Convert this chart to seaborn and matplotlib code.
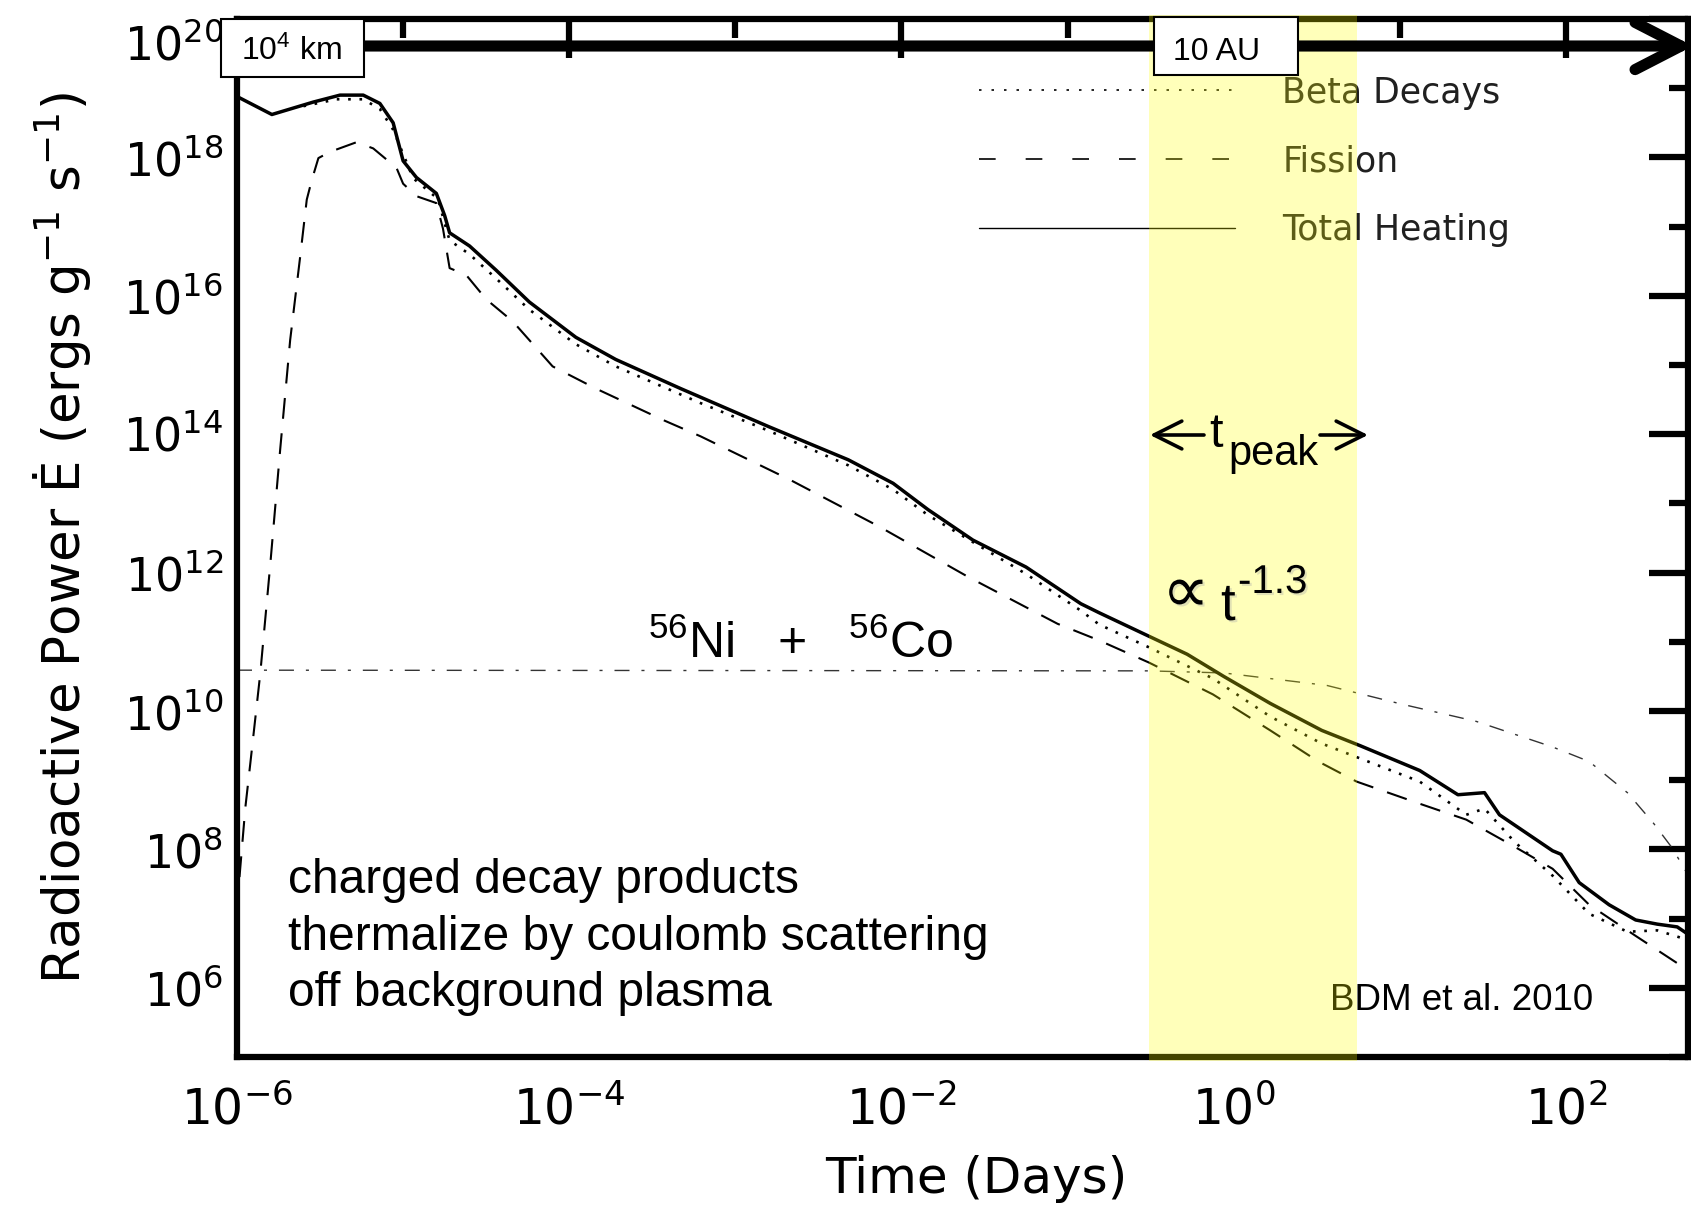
import numpy as np
import pandas as pd
import seaborn as sns
import matplotlib
matplotlib.use("Agg")
import matplotlib.pyplot as plt
from matplotlib import ticker, font_manager
from matplotlib import patheffects as pe
from matplotlib.patches import Rectangle, FancyArrowPatch
from matplotlib.lines import Line2D

# ---------------- data: log10(time / days), log10(power / erg g^-1 s^-1) ----------------
total_log_t = [-6.00, -5.79, -5.54, -5.38, -5.24, -5.14, -5.06, -5.00, -4.92, -4.80,
               -4.75, -4.72, -4.60, -4.44, -4.24, -3.96, -3.72, -3.33, -2.80, -2.32,
               -2.05, -1.84, -1.57, -1.25, -0.92, -0.81, -0.51, -0.28, -0.06, 0.22,
               0.53, 0.76, 1.12, 1.35, 1.51, 1.60, 1.76, 1.92, 1.97, 2.08,
               2.26, 2.42, 2.55, 2.67, 2.75]
total_log_E = [18.88, 18.62, 18.80, 18.90, 18.90, 18.78, 18.50, 17.95, 17.71, 17.48,
               17.16, 16.91, 16.72, 16.37, 15.91, 15.40, 15.08, 14.66, 14.11, 13.63,
               13.29, 12.91, 12.47, 12.08, 11.55, 11.42, 11.08, 10.82, 10.50, 10.11,
               9.72, 9.50, 9.14, 8.79, 8.82, 8.50, 8.24, 7.98, 7.93, 7.52,
               7.20, 6.98, 6.92, 6.88, 6.75]

beta_log_t = [-5.60, -5.40, -5.24, -5.14, -5.06, -5.00, -4.94, -4.85, -4.79, -4.75,
              -4.72, -4.60, -4.44, -4.24, -3.96, -3.72, -3.21, -2.80, -2.32, -2.05,
              -1.84, -1.25, -0.92, -0.81, -0.51, -0.125, 0.22, 0.53, 1.12, 1.40,
              1.51, 1.69, 1.92, 2.14, 2.37, 2.55, 2.75]
beta_log_E = [18.74, 18.84, 18.84, 18.70, 18.40, 18.05, 17.70, 17.52, 17.40, 17.05,
              16.80, 16.60, 16.25, 15.80, 15.30, 14.98, 14.45, 14.05, 13.55, 13.20,
              12.83, 11.98, 11.45, 11.25, 10.92, 10.47, 9.92, 9.53, 8.98, 8.50,
              8.59, 8.11, 7.62, 7.07, 6.81, 6.83, 6.68]

fission_log_t = [-5.985, -5.95, -5.92, -5.86, -5.80, -5.74, -5.68, -5.62, -5.58, -5.55,
                 -5.51, -5.44, -5.28, -5.18, -5.04, -5.00, -4.92, -4.80, -4.76, -4.72,
                 -4.62, -4.50, -4.34, -4.10, -3.84, -3.43, -3.21, -2.67, -2.13, -1.60,
                 -1.06, -0.81, -0.51, -0.125, 0.22, 0.51, 0.74, 1.12, 1.40, 1.69,
                 1.92, 2.14, 2.42, 2.75]
fission_log_E = [7.6, 8.6, 9.24, 10.54, 12.11, 13.78, 15.36, 16.56, 17.39, 17.67,
                 17.99, 18.08, 18.22, 18.13, 17.85, 17.62, 17.44, 17.34, 16.97, 16.40,
                 16.30, 15.95, 15.63, 14.98, 14.66, 14.20, 13.97, 13.34, 12.66, 11.94,
                 11.26, 11.02, 10.70, 10.24, 9.72, 9.27, 8.98, 8.66, 8.43, 8.04,
                 7.72, 7.20, 6.75, 6.23]

nico_log_t = [-6.0, -0.51, -0.06, 0.56, 1.01, 1.46, 1.92, 2.14, 2.37, 2.53, 2.64, 2.75]
nico_log_E = [10.59, 10.58, 10.55, 10.37, 10.10, 9.85, 9.48, 9.27, 8.82, 8.37, 8.02, 7.57]

legend_labels = ["Beta Decays", "Fission", "Total Heating"]
tpeak_days = [0.31, 5.5]
xlim_days = [1e-6, 10 ** 2.735]
ylim_power = [1e5, 1e20]
top_label_value = 1e20

x_label = "Time (Days)"
y_label = "Radioactive Power Ė (ergs g$^{-1}$ s$^{-1}$)"
nico_label = "$^{56}$Ni   +   $^{56}$Co"
note_lines = ["charged decay products", "thermalize by coulomb scattering", "off background plasma"]
credit = "BDM et al. 2010"
box_labels = ["10$^{4}$ km", "10 AU"]

# ---------------- style ----------------
sns.set_style("white")
plt.rcParams["font.family"] = ["DejaVu Sans"]
plt.rcParams["mathtext.default"] = "regular"
for key in ("text.color", "axes.labelcolor", "xtick.color", "ytick.color", "axes.edgecolor"):
    plt.rcParams[key] = "black"
ARIAL = ["Liberation Sans", "DejaVu Sans"]

installed = {f.name for f in font_manager.fontManager.ttflist}
if "Liberation Sans Narrow" in installed:
    TICK_FAMILY, YTICK_SIZE, XTICK_SIZE = "Liberation Sans Narrow", 39, 40
else:
    TICK_FAMILY, YTICK_SIZE, XTICK_SIZE = "DejaVu Sans", 33, 35

W, H = 1691, 1205
fig = plt.figure(figsize=(W / 100, H / 100), dpi=100)
AX_L, AX_R, AX_T, AX_B = 237, 1688, 19, 1057
ax = fig.add_axes([AX_L / W, 1 - AX_B / H, (AX_R - AX_L) / W, (AX_B - AX_T) / H])


def fxy(px, py):
    """pixel position (from top-left) -> figure fraction"""
    return (px / W, 1 - py / H)


ax.set_xscale("log")
ax.set_yscale("log")


def frame(log_t, log_E):
    return pd.DataFrame({"t": np.power(10.0, np.asarray(log_t)),
                         "E": np.power(10.0, np.asarray(log_E))})


sns.lineplot(data=frame(nico_log_t, nico_log_E), x="t", y="E", ax=ax, estimator=None,
             sort=False, legend=False, color="#333333", linewidth=1.0,
             linestyle=(0, (10.8, 8.6, 2.2, 8.6)))
sns.lineplot(data=frame(fission_log_t, fission_log_E), x="t", y="E", ax=ax, estimator=None,
             sort=False, legend=False, color="black", linewidth=1.5,
             linestyle=(0, (10, 7)))
sns.lineplot(data=frame(beta_log_t, beta_log_E), x="t", y="E", ax=ax, estimator=None,
             sort=False, legend=False, color="black", linewidth=1.9,
             linestyle=(0, (1, 3.3)))
sns.lineplot(data=frame(total_log_t, total_log_E), x="t", y="E", ax=ax, estimator=None,
             sort=False, legend=False, color="black", linewidth=2.5)

ax.set_xlim(xlim_days)
ax.set_ylim(ylim_power)

sci = ticker.LogFormatterSciNotation(base=10.0)
for axis in (ax.xaxis, ax.yaxis):
    axis.set_major_locator(ticker.LogLocator(base=100.0, numticks=30))
    axis.set_minor_locator(ticker.LogLocator(base=100.0, subs=(10.0,), numticks=30))
    axis.set_minor_formatter(ticker.NullFormatter())
ax.xaxis.set_major_formatter(sci)
# the top y label is drawn separately (shifted down inside the frame, as in the original)
ax.yaxis.set_major_formatter(ticker.FuncFormatter(
    lambda v, pos: "" if np.isclose(v, top_label_value) else sci(v, pos)))

ax.tick_params(which="both", direction="in", top=True, right=True, width=4.5, color="black")
ax.tick_params(which="major", length=28)
ax.tick_params(which="minor", length=14)
ax.tick_params(axis="x", which="major", labelsize=XTICK_SIZE, pad=21, labelfontfamily=TICK_FAMILY)
ax.tick_params(axis="y", which="major", labelsize=YTICK_SIZE, pad=10, labelfontfamily=TICK_FAMILY)
for s in ax.spines.values():
    s.set_linewidth(4.5)
    s.set_color("black")

fig.text(*fxy(AX_L - 14, 60), sci(top_label_value, 0), fontsize=YTICK_SIZE,
         family=TICK_FAMILY, ha="right", va="baseline")

ax.set_xlabel(x_label, fontsize=36, va="baseline")
ax.xaxis.set_label_coords((976 - AX_L) / (AX_R - AX_L), (AX_B - 1193) / (AX_B - AX_T))
ax.set_ylabel(y_label, fontsize=37, va="center")
ax.yaxis.set_label_coords((62 - AX_L) / (AX_R - AX_L), 0.5)

# legend (drawn under the yellow band)
handles = [Line2D([], [], color="black", lw=1.2, linestyle=(0, (1.5, 6))),
           Line2D([], [], color="black", lw=1.2, linestyle=(0, (10, 18))),
           Line2D([], [], color="black", lw=1.0)]
leg = ax.legend(handles, legend_labels, loc="upper left", bbox_to_anchor=fxy(979, 75.5),
                bbox_transform=fig.transFigure, frameon=False, fontsize=25,
                handlelength=7.37, handletextpad=1.36, labelspacing=1.0,
                borderpad=0, borderaxespad=0, labelcolor="#202020")
leg.set_zorder(3)

# texts inside the axes (under the band)
ax.text(*fxy(648, 658), nico_label, transform=fig.transFigure, fontsize=36,
        family=ARIAL, ha="left", va="baseline", zorder=3)
for line, base in zip(note_lines, [893, 950, 1006]):
    ax.text(*fxy(288, base), line, transform=fig.transFigure, fontsize=34.5,
            family=ARIAL, ha="left", va="baseline", zorder=3)
ax.text(*fxy(1330, 1010), credit, transform=fig.transFigure, fontsize=26.5,
        family=ARIAL, ha="left", va="baseline", zorder=3)

# yellow t_peak band (on top of curves and spines)
ax.axvspan(tpeak_days[0], tpeak_days[1], ymin=-0.004, ymax=1.004, facecolor="#ffff00",
           alpha=0.27, lw=0, zorder=4, clip_on=False)

# ---- figure-level overlays (above the band) ----
fig.add_artist(FancyArrowPatch(fxy(292, 46), fxy(1693, 46), transform=fig.transFigure,
                               arrowstyle="->,head_length=3.3,head_width=1.7",
                               mutation_scale=10, lw=8, color="black",
                               shrinkA=0, shrinkB=0, capstyle="round", zorder=5))
for (x0, y0, x1, y1), lab, cx in zip([(221, 19, 364, 77), (1154, 17, 1298, 75)],
                                     box_labels, [291, 1217]):
    fig.add_artist(Rectangle(fxy(x0, y1), (x1 - x0) / W, (y1 - y0) / H,
                             transform=fig.transFigure, facecolor="white",
                             edgecolor="black", lw=1.5, zorder=6))
    fig.text(*fxy(cx, 60), lab, fontsize=23, family=ARIAL, ha="center",
             va="baseline", zorder=7)

# t_peak annotation
head = dict(arrowstyle="->,head_length=2.0,head_width=1.0", mutation_scale=10,
            lw=2.6, color="black", shrinkA=0, shrinkB=0)
fig.add_artist(FancyArrowPatch(fxy(1204, 435), fxy(1150, 435), transform=fig.transFigure,
                               zorder=6, **head))
fig.add_artist(FancyArrowPatch(fxy(1320, 435), fxy(1368, 435), transform=fig.transFigure,
                               zorder=6, **head))
fig.text(*fxy(1209, 447), "t", fontsize=35, family=ARIAL, ha="left", va="baseline", zorder=7)
fig.text(*fxy(1228, 465), "peak", fontsize=30, family=ARIAL, ha="left", va="baseline", zorder=7)

# power-law annotation with a soft shadow
shadow = [pe.withSimplePatchShadow(offset=(1.5, -1.5), shadow_rgbFace="#aaaaaa", alpha=0.35)]
fig.text(*fxy(1162, 612), "∝", fontsize=48, family=ARIAL, ha="left", va="baseline",
         zorder=7, path_effects=shadow)
fig.text(*fxy(1221, 620), "t", fontsize=38, family=ARIAL, ha="left", va="baseline",
         zorder=7, path_effects=shadow)
fig.text(*fxy(1238, 593), "-1.3", fontsize=29, family=ARIAL, ha="left", va="baseline",
         zorder=7, path_effects=shadow)

fig.savefig("out.png", dpi=100)
